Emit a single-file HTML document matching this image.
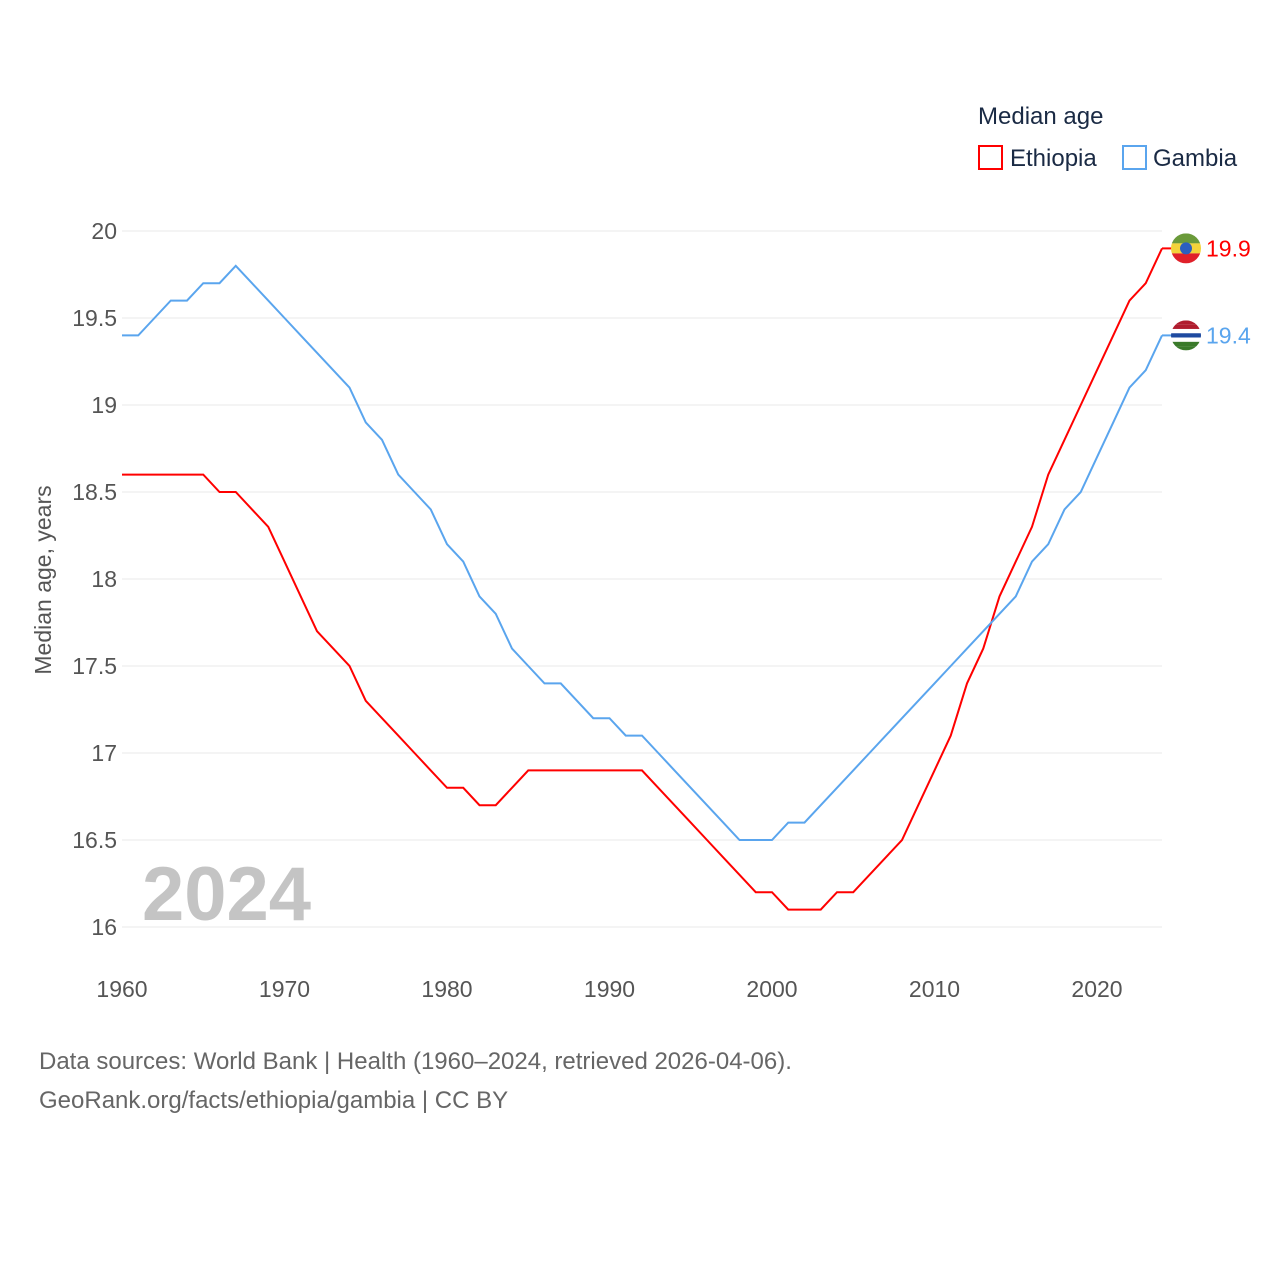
<!DOCTYPE html>
<html><head><meta charset="utf-8"><style>
body{margin:0;background:#fff;font-family:"Liberation Sans",sans-serif;}
svg text{font-family:"Liberation Sans",sans-serif;}
</style></head><body>
<svg width="1280" height="1280" viewBox="0 0 1280 1280">
<g id="grid"></g><g id="ylabels"></g><g id="xlabels"></g>
<text x="142" y="920" font-size="76" font-weight="bold" fill="#c4c4c4">2024</text>
<g id="lines"></g>
<text transform="translate(51,580) rotate(-90)" text-anchor="middle" font-size="23" fill="#555">Median age, years</text>
<text x="978" y="124" font-size="24" fill="#1a2a44">Median age</text>
<g><rect x="979" y="146" width="23" height="23" fill="none" stroke="#f00" stroke-width="2"/><text x="1010" y="166" font-size="24" fill="#1a2a44">Ethiopia</text></g>
<g><rect x="1123" y="146" width="23" height="23" fill="none" stroke="#5aa5ee" stroke-width="2"/><text x="1153" y="166" font-size="24" fill="#1a2a44">Gambia</text></g>
<g id="ends"></g>
<text x="39" y="1069" font-size="24" fill="#666">Data sources: World Bank | Health (1960–2024, retrieved 2026-04-06).</text>
<text x="39" y="1108" font-size="24" fill="#666">GeoRank.org/facts/ethiopia/gambia | CC BY</text>
</svg>
<script>
const years=[];for(let y=1960;y<=2024;y++)years.push(y);
const ethiopia=[18.6,18.6,18.6,18.6,18.6,18.6,18.5,18.5,18.4,18.3,18.1,17.9,17.7,17.6,17.5,17.3,17.2,17.1,17.0,16.9,16.8,16.8,16.7,16.7,16.8,16.9,16.9,16.9,16.9,16.9,16.9,16.9,16.9,16.8,16.7,16.6,16.5,16.4,16.3,16.2,16.2,16.1,16.1,16.1,16.2,16.2,16.3,16.4,16.5,16.7,16.9,17.1,17.4,17.6,17.9,18.1,18.3,18.6,18.8,19.0,19.2,19.4,19.6,19.7,19.9];
const gambia=[19.4,19.4,19.5,19.6,19.6,19.7,19.7,19.8,19.7,19.6,19.5,19.4,19.3,19.2,19.1,18.9,18.8,18.6,18.5,18.4,18.2,18.1,17.9,17.8,17.6,17.5,17.4,17.4,17.3,17.2,17.2,17.1,17.1,17.0,16.9,16.8,16.7,16.6,16.5,16.5,16.5,16.6,16.6,16.7,16.8,16.9,17.0,17.1,17.2,17.3,17.4,17.5,17.6,17.7,17.8,17.9,18.1,18.2,18.4,18.5,18.7,18.9,19.1,19.2,19.4];
const yTicks=[16,16.5,17,17.5,18,18.5,19,19.5,20];
const yTickLabels=["16","16.5","17","17.5","18","18.5","19","19.5","20"];
const xTicks=[1960,1970,1980,1990,2000,2010,2020];
const X=v=>122+(v-1960)*16.25, Y=v=>927-(v-16)*174;
const NS="http://www.w3.org/2000/svg";
function mk(tag,attrs,parent,txt){const e=document.createElementNS(NS,tag);for(const k in attrs)e.setAttribute(k,attrs[k]);if(txt!=null)e.textContent=txt;document.getElementById(parent).appendChild(e);return e;}
yTicks.forEach((t,i)=>{
 const l=mk('line',{x1:122,x2:1162,y1:Y(t),y2:Y(t),stroke:'#e8e8e8','stroke-width':1},'grid');
 
 
 const tx=mk('text',{x:117,y:Y(t)+8,'text-anchor':'end','font-size':23,fill:'#555'},'ylabels',yTickLabels[i]);
 
 
});
xTicks.forEach(t=>{
 const tx=mk('text',{x:X(t),y:997,'text-anchor':'middle','font-size':23,fill:'#555'},'xlabels',String(t));
 
 
});
function line(d,c,name){
 const p=mk('path',{d:d.map((v,i)=>(i?'L':'M')+X(years[i])+','+Y(v)).join(''),fill:'none',stroke:c,'stroke-width':2},'lines');
 
 
 const last=d[d.length-1];
 const ly=Y(last);
 mk('line',{x1:X(2024),x2:1178,y1:ly,y2:ly,stroke:c,'stroke-width':2},'ends');
 const t=mk('text',{x:1206,y:ly+8,'font-size':23,fill:c},'ends',last.toFixed(1));
 
 
 return ly;
}
const ey=line(ethiopia,'#f00','ethiopia-line');
const gy=line(gambia,'#5aa5ee','gambia-line');
// flags
function flag(cy,cols,name){
 const g=mk('g',{},'ends');
 
 
 const h=30/cols.length;
 cols.forEach((c,i)=>{const r=document.createElementNS(NS,'rect');r.setAttribute('x',1171);r.setAttribute('y',cy-15+i*h);r.setAttribute('width',30);r.setAttribute('height',h);r.setAttribute('fill',c);g.appendChild(r);});
 const cp=document.createElementNS(NS,'clipPath');cp.setAttribute('id','c'+name);const ci=document.createElementNS(NS,'circle');ci.setAttribute('cx',1186);ci.setAttribute('cy',cy);ci.setAttribute('r',15);cp.appendChild(ci);g.appendChild(cp);
 g.setAttribute('clip-path','url(#c'+name+')');
 return g;
}
flag(ey,['#6a9a3a','#f2d33a','#e0202a'],'ethiopia-flag');
const ec=mk('circle',{cx:1186,cy:ey,r:6,fill:'#2a5fbf'},'ends');


flag(gy,['#b01c2e','#b01c2e','#fff','#1e4aa0','#fff','#3a7a2a','#3a7a2a'],'gambia-flag');
</script>
</body></html>
